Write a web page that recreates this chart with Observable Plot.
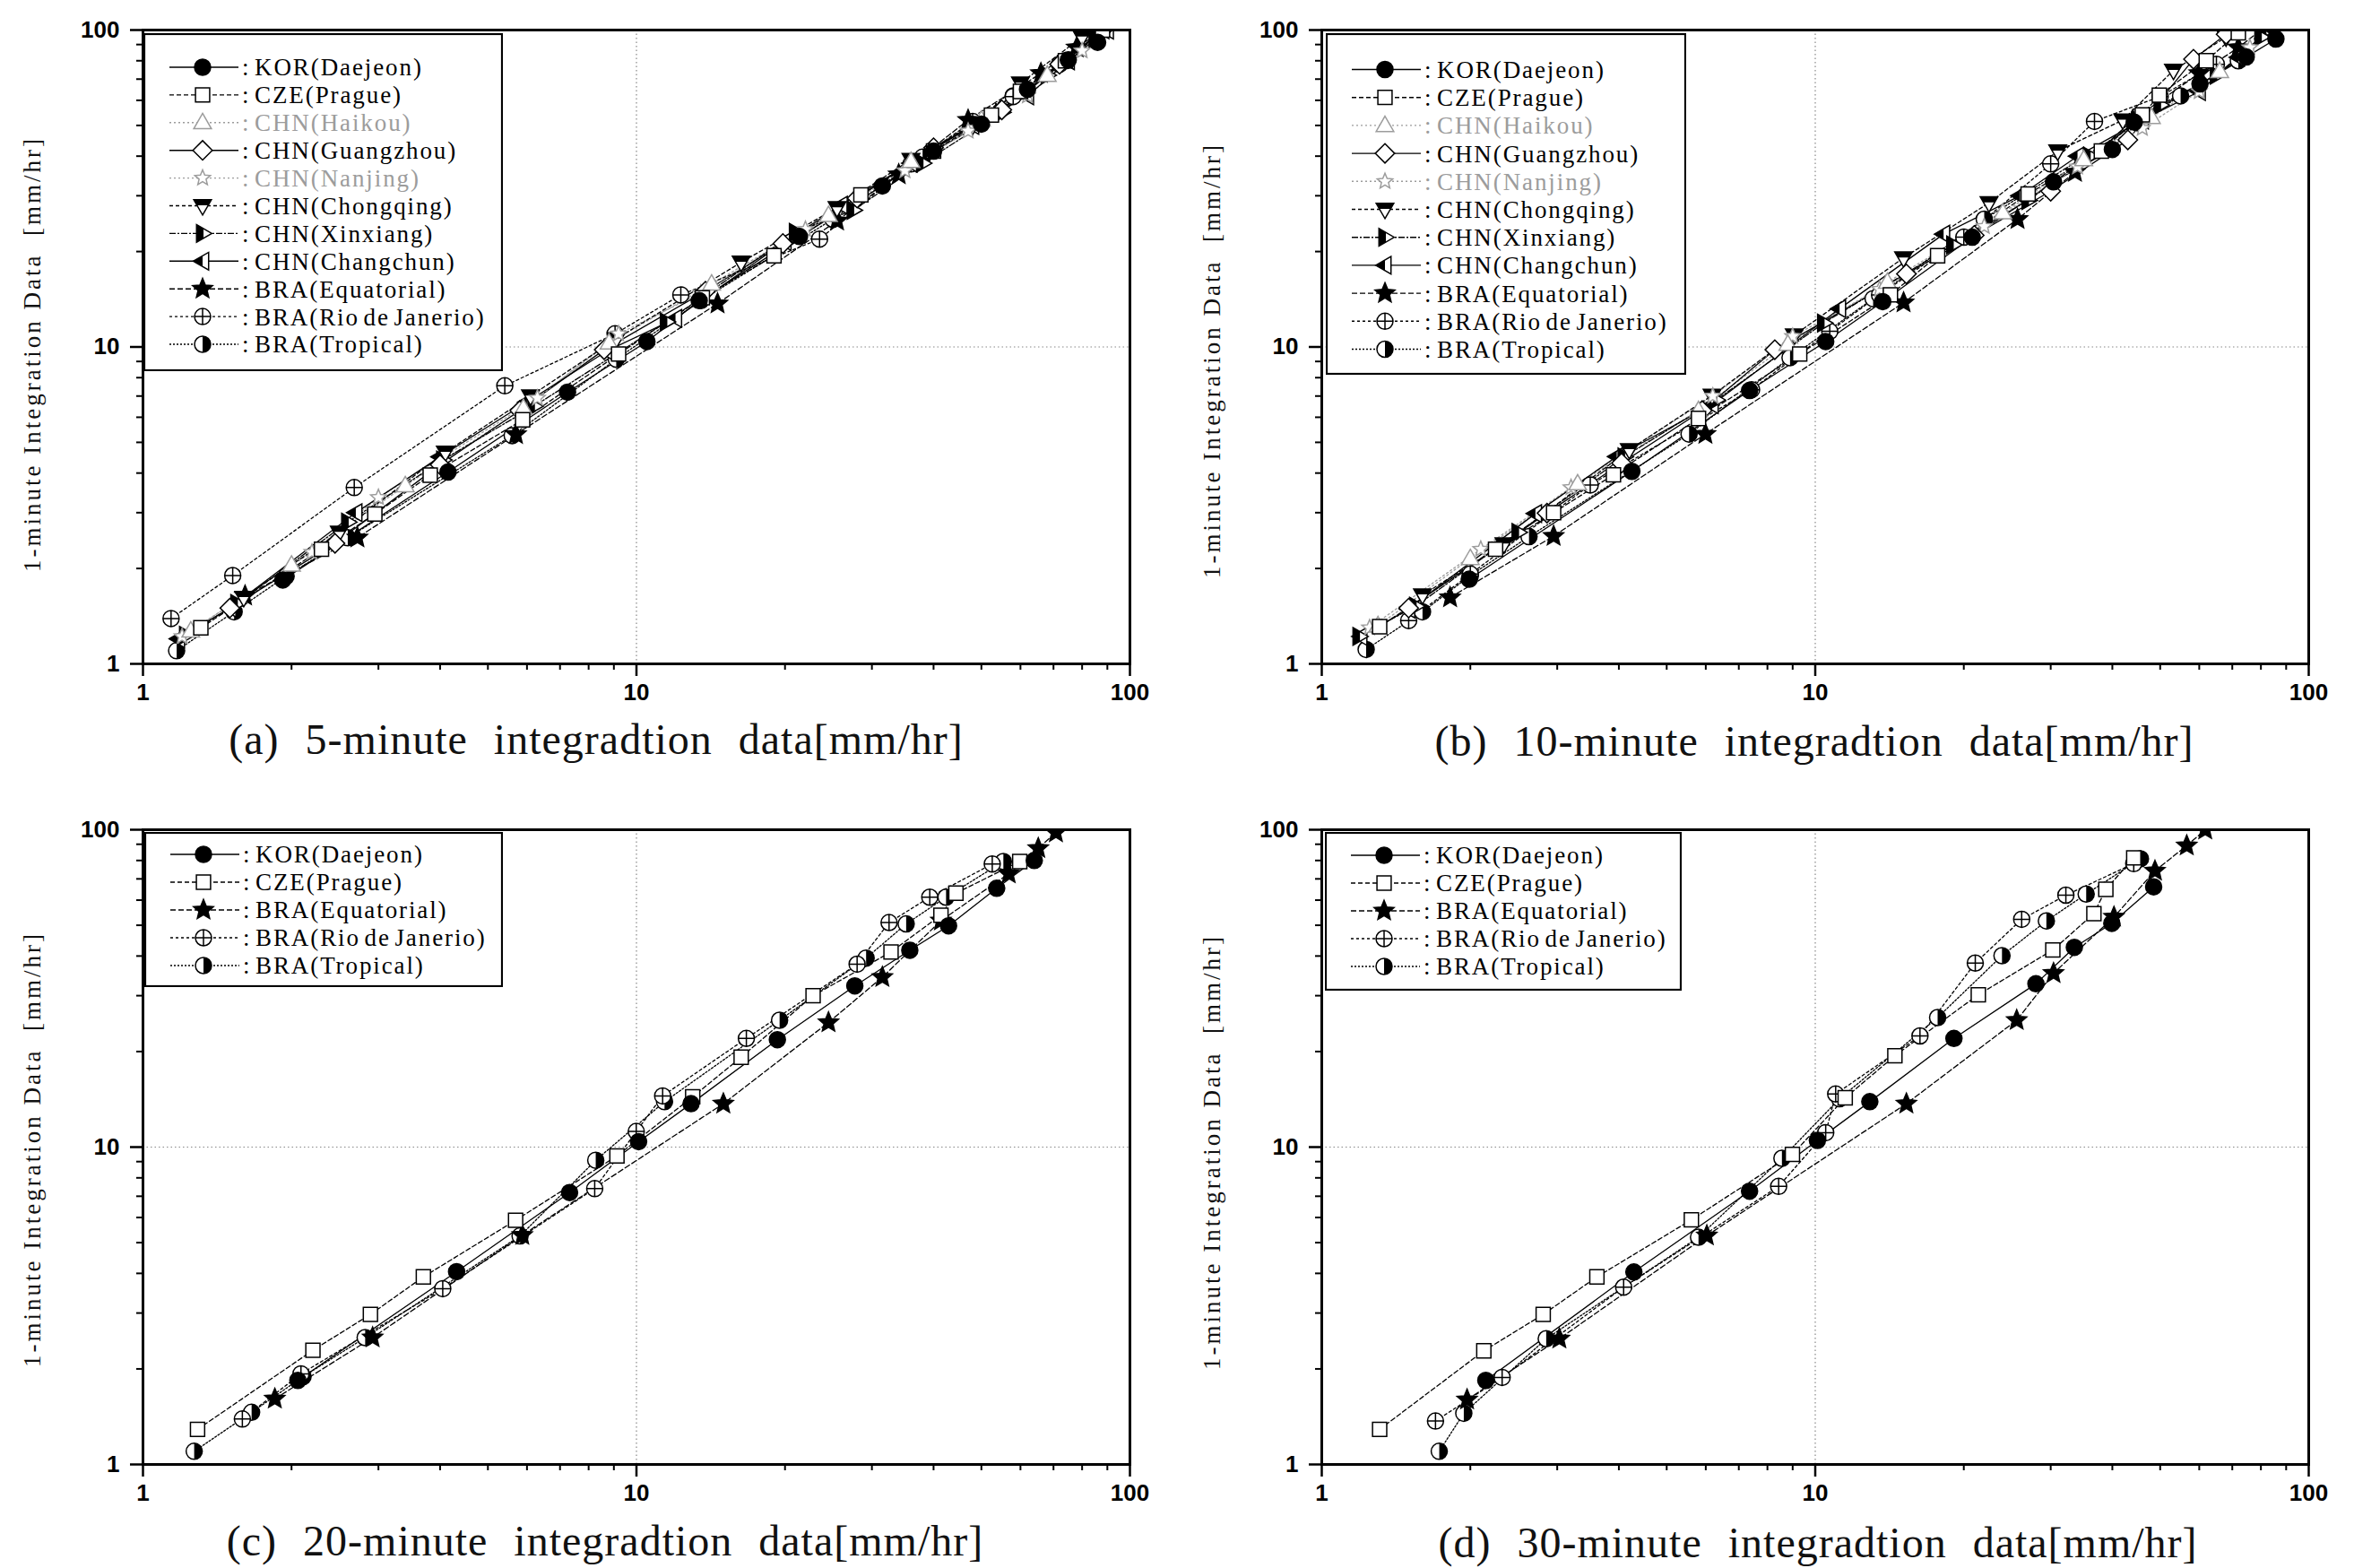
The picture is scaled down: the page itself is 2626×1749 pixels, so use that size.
<!DOCTYPE html>
<html><head><meta charset="utf-8">
<script src="https://cdn.jsdelivr.net/npm/d3@7"></script>
<script src="https://cdn.jsdelivr.net/npm/@observablehq/plot@0.6"></script>
<style>
html,body{margin:0;padding:0;background:#fff;}
#page{position:relative;width:2626px;height:1749px;overflow:hidden;background:#fff;}
.panel{position:absolute;}
.cap{position:absolute;font-family:"Liberation Serif","Times New Roman",serif;font-size:48px;white-space:nowrap;transform:translate(-50%,-50%);color:#111;word-spacing:16px;letter-spacing:1px;}
.ylab{position:absolute;font-family:"Liberation Serif","Times New Roman",serif;font-size:27px;white-space:pre;color:#111;letter-spacing:3px;transform:translate(-50%,-50%) rotate(-90deg);}
</style></head><body><div id="page"></div>
<script>
// ---------- data (x = n-minute integration rate, y = 1-minute rate) ----------
const a_KOR = [[1.92,1.84],[4.15,4.03],[7.25,7.2],[10.5,10.4],[13.4,14.0],[21.4,22.3],[31.5,32.2],[40,41.5],[50,50.5],[62,65],[75,80.5],[86,91.5]];
const a_CZE = [[1.31,1.30],[2.3,2.3],[2.95,2.97],[3.82,3.94],[5.88,5.89],[9.2,9.5],[13.6,14.3],[19.0,19.4],[28.5,30.2],[40,41.5],[52.4,53.9],[60,64],[74,80],[88,100]];
const a_HAI = [[1.25,1.27],[2.0,2.05],[3.4,3.65],[5.9,6.4],[8.8,10.3],[14.2,15.8],[24.5,26],[36,38.5],[50,52],[68,72]];
const a_GUA = [[1.5,1.5],[2.45,2.4],[4.0,4.25],[5.8,6.3],[8.6,9.8],[13.8,15.0],[19.8,21.2],[28,29.5],[40,42.5],[55,56],[72,78],[88,100]];
const a_NAN = [[1.2,1.22],[2.2,2.25],[3.0,3.35],[6.3,6.9],[9.2,11.0],[13.5,14.8],[22,23.5],[35,36],[47,48],[62,62],[80,86]];
const a_CHO = [[1.6,1.62],[2.5,2.6],[4.1,4.65],[6.1,7.0],[9.1,10.6],[16.3,18.5],[25.5,27.5],[36,39],[48,50],[60,68],[80,95]];
const a_XIN = [[1.22,1.23],[1.55,1.55],[2.6,2.8],[4.05,4.4],[6.2,6.5],[11.5,12.0],[21,23],[27.5,27],[38,38],[55,55],[68,72],[85,95]];
const a_CHA = [[1.18,1.2],[1.5,1.5],[2.7,3.0],[4.0,4.5],[6.0,6.7],[8.7,9.7],[12,12.3],[20,21.5],[26,28],[36,38],[48,50],[62,62],[75,80],[90,100]];
const a_EQU = [[1.61,1.64],[2.72,2.5],[5.7,5.3],[14.6,13.7],[25.5,25],[34,35],[47,52],[66,73],[78,88],[88,100]];
const a_RIO = [[1.14,1.39],[1.52,1.9],[2.68,3.6],[5.41,7.54],[9.05,11.0],[12.3,14.6],[23.5,21.9],[36,37.8],[48,51.5],[58,61.7],[72,78]];
const a_TRO = [[1.17,1.1],[1.53,1.46],[1.95,1.89],[2.6,2.5],[5.6,5.25],[9.1,9.15],[13.5,14.0],[25,25.3],[38,39.7],[48,51],[58,62],[74,80]];

const b_KOR = [[1.99,1.85],[4.25,4.05],[7.36,7.29],[10.5,10.4],[13.7,13.9],[20.8,22.2],[30.4,33.2],[40,42],[44.3,51.2],[60.2,67.6],[74.7,82.2],[85.8,93.7]];
const b_CZE = [[1.31,1.31],[2.25,2.3],[2.95,3.0],[3.9,3.95],[5.8,5.95],[9.3,9.5],[14.2,14.6],[17.7,19.4],[27.0,30.4],[38,41.5],[46,54],[49.8,62.3],[62,80],[72,98]];
const b_HAI = [[1.3,1.32],[2.0,2.15],[3.3,3.7],[5.8,6.3],[8.8,10.2],[14.0,16.0],[24,26.5],[35,39],[48,53],[66,74]];
const b_GUA = [[1.5,1.5],[2.86,2.99],[4.05,4.3],[5.9,6.3],[8.28,9.8],[15.3,17.0],[21,22.5],[30,31],[43,45],[58.4,80.9],[68,97]];
const b_NAN = [[1.25,1.3],[2.1,2.3],[3.2,3.6],[6.2,7.0],[9.0,10.8],[13.5,15.2],[22,24],[34,37],[46,49],[60,64],[76,88]];
const b_CHO = [[1.6,1.65],[2.34,2.39],[4.2,4.74],[6.18,7.03],[9.07,10.9],[15.1,19.1],[22.5,28.5],[31,41.5],[42,52],[53.2,74.6],[68,95]];
const b_XIN = [[1.19,1.22],[1.55,1.52],[2.5,2.6],[4.1,4.5],[6.3,6.8],[10.4,11.9],[19,21],[27,29],[36,40],[50,58],[65,72],[80,95]];
const b_CHA = [[1.2,1.22],[1.5,1.49],[2.71,2.98],[3.96,4.51],[6.18,6.57],[11.2,13.2],[18.2,22.7],[26,30],[34,40],[46,52],[60,64],[72,82],[85,100]];
const b_EQU = [[1.82,1.62],[2.95,2.53],[5.99,5.31],[15.1,13.8],[25.7,25.3],[33.6,35.6],[44,52],[60,73],[72,88],[80,100]];
const b_RIO = [[1.5,1.37],[2.0,1.92],[3.5,3.67],[7.43,7.33],[10.7,11.2],[13.5,14.6],[20,22.2],[30,37.8],[36.8,51.5],[50,61.7],[65,78]];
const b_TRO = [[1.23,1.11],[1.6,1.46],[2.0,1.9],[2.63,2.52],[5.55,5.31],[8.89,9.25],[13.1,14.2],[22,25.3],[35,39.7],[45,51],[55,62],[72,80]];

const c_KOR = [[2.06,1.84],[4.32,4.05],[7.32,7.19],[10.1,10.4],[12.9,13.7],[19.3,21.8],[27.7,32.2],[35.8,41.7],[42.9,49.8],[53.7,65.4],[64,80]];
const c_CZE = [[1.29,1.29],[2.21,2.29],[2.89,2.97],[3.7,3.9],[5.69,5.88],[9.13,9.38],[13.0,14.4],[16.3,19.2],[22.8,30.0],[32.8,41.2],[41.4,53.8],[44.4,63.1],[59.8,79.4]];
const c_EQU = [[1.85,1.61],[2.92,2.51],[5.87,5.28],[15.0,13.7],[24.5,24.7],[31.5,34.3],[41.4,51.7],[56.8,72.7],[65.2,87.4],[70.8,98]];
const c_RIO = [[1.59,1.39],[2.09,1.93],[4.05,3.58],[8.23,7.4],[9.99,11.2],[11.3,14.5],[16.7,22.0],[28.0,37.7],[32.5,51.0],[39.3,61.3],[52.6,78]];
const c_TRO = [[1.27,1.1],[1.66,1.46],[2.11,1.89],[2.82,2.51],[5.81,5.25],[8.27,9.09],[11.4,13.9],[19.5,25.1],[29.2,39.4],[35.2,50.5],[42.4,61.3],[55.4,79.4]];

const d_KOR = [[2.15,1.84],[4.29,4.04],[7.36,7.26],[10.1,10.5],[12.9,13.9],[19.1,22.0],[28.0,32.7],[33.5,42.6],[39.9,50.7],[48.5,66.1]];
const d_CZE = [[1.31,1.29],[2.13,2.28],[2.81,2.97],[3.61,3.9],[5.61,5.9],[8.99,9.49],[11.5,14.3],[14.5,19.4],[21.4,30.2],[30.3,41.8],[36.7,54.4],[38.8,64.9],[44.2,81.5]];
const d_EQU = [[1.97,1.6],[3.03,2.49],[6.03,5.26],[15.3,13.7],[25.6,25.1],[30.4,35.3],[40.3,53.1],[48.8,74.2],[56.6,89.1],[61.7,100]];
const d_RIO = [[1.7,1.37],[2.32,1.88],[4.09,3.62],[8.43,7.52],[10.5,11.1],[11.0,14.7],[16.3,22.4],[21.1,38.0],[26.2,52.2],[32.2,62.2],[44.2,78.2]];
const d_TRO = [[1.73,1.1],[1.94,1.45],[2.85,2.49],[5.8,5.2],[8.56,9.22],[11.2,14.2],[17.7,25.6],[23.9,40.1],[29.4,51.6],[35.4,62.7],[45.6,81.0]];

const seriesLabels = {KOR:"KOR(Daejeon)", CZE:"CZE(Prague)", HAI:"CHN(Haikou)", GUA:"CHN(Guangzhou)", NAN:"CHN(Nanjing)", CHO:"CHN(Chongqing)", XIN:"CHN(Xinxiang)", CHA:"CHN(Changchun)", EQU:"BRA(Equatorial)", RIO:"BRA(Rio de Janerio)", TRO:"BRA(Tropical)"};
const xTicks = [1, 10, 100];
const yTicks = [1, 10, 100];
const minorTicks = [2,3,4,5,6,7,8,9,20,30,40,50,60,70,80,90];
const yLabel = "1-minute Integration Data  [mm/hr]";
const captions = ["(a) 5-minute integradtion data[mm/hr]", "(b) 10-minute integradtion data[mm/hr]", "(c) 20-minute integradtion data[mm/hr]", "(d) 30-minute integradtion data[mm/hr]"];

// ---------- marker shapes ----------
const rad = s => Math.sqrt(s / Math.PI);
const SYM = {
  circle: {draw(c,s){const r=rad(s); c.moveTo(r,0); c.arc(0,0,r,0,2*Math.PI); c.closePath();}},
  square: {draw(c,s){const r=rad(s)*0.88; c.moveTo(-r,-r); c.lineTo(r,-r); c.lineTo(r,r); c.lineTo(-r,r); c.closePath();}},
  triUp: {draw(c,s){const r=rad(s)*1.15; c.moveTo(0,-r); c.lineTo(r*0.95,r*0.65); c.lineTo(-r*0.95,r*0.65); c.closePath();}},
  triDown: {draw(c,s){const r=rad(s)*1.15; c.moveTo(0,r); c.lineTo(r*0.95,-r*0.65); c.lineTo(-r*0.95,-r*0.65); c.closePath();}},
  triDownTop: {draw(c,s){const r=rad(s)*1.15, y0=-r*0.65, y1=-r*0.05, w0=r*0.95, w1=w0*(r-y1)/(r-y0); c.moveTo(-w0,y0); c.lineTo(w0,y0); c.lineTo(w1,y1); c.lineTo(-w1,y1); c.closePath();}},
  triRight: {draw(c,s){const r=rad(s)*1.15; c.moveTo(r,0); c.lineTo(-r*0.65,r*0.95); c.lineTo(-r*0.65,-r*0.95); c.closePath();}},
  triRightHalf: {draw(c,s){const r=rad(s)*1.15, x0=-r*0.65, x1=r*0.1, h0=r*0.95, h1=h0*(r-x1)/(r-x0); c.moveTo(x0,-h0); c.lineTo(x1,-h1); c.lineTo(x1,h1); c.lineTo(x0,h0); c.closePath();}},
  triLeft: {draw(c,s){const r=rad(s)*1.15; c.moveTo(-r,0); c.lineTo(r*0.65,r*0.95); c.lineTo(r*0.65,-r*0.95); c.closePath();}},
  triLeftHalf: {draw(c,s){const r=rad(s)*1.15, h=r*0.95/1.65; c.moveTo(-r,0); c.lineTo(0,h); c.lineTo(0,-h); c.closePath();}},
  diamond: {draw(c,s){const r=rad(s)*1.2; c.moveTo(0,-r); c.lineTo(r,0); c.lineTo(0,r); c.lineTo(-r,0); c.closePath();}},
  star: {draw(c,s){const R=rad(s)*1.3, q=R*0.45; for(let i=0;i<10;i++){const a=-Math.PI/2+i*Math.PI/5, rr=i%2?q:R; const x=rr*Math.cos(a), y=rr*Math.sin(a); if(i) c.lineTo(x,y); else c.moveTo(x,y);} c.closePath();}},
  circlePlus: {draw(c,s){const r=rad(s); c.moveTo(r,0); c.arc(0,0,r,0,2*Math.PI); c.closePath(); c.moveTo(-r,0); c.lineTo(r,0); c.moveTo(0,-r); c.lineTo(0,r);}},
  halfRight: {draw(c,s){const r=rad(s); c.moveTo(0,-r); c.arc(0,0,r,-Math.PI/2,Math.PI/2); c.closePath();}}
};

const GRAY = "#9c9c9c";
const STY = {
  KOR: {sym:"circle", fill:"#000", stroke:"#000", dash:null},
  CZE: {sym:"square", fill:"#fff", stroke:"#000", dash:"5,3"},
  HAI: {sym:"triUp", fill:"#fff", stroke:GRAY, dash:"2,3", text:GRAY},
  GUA: {sym:"diamond", fill:"#fff", stroke:"#000", dash:null},
  NAN: {sym:"star", fill:"#fff", stroke:GRAY, dash:"2,3", text:GRAY, r:7},
  CHO: {sym:"triDown", over:"triDownTop", fill:"#fff", stroke:"#000", dash:"4,3"},
  XIN: {sym:"triRight", over:"triRightHalf", fill:"#fff", stroke:"#000", dash:"7,2,2,2"},
  CHA: {sym:"triLeft", over:"triLeftHalf", fill:"#fff", stroke:"#000", dash:null},
  EQU: {sym:"star", fill:"#000", stroke:"#000", dash:"6,3"},
  RIO: {sym:"circlePlus", fill:"#fff", stroke:"#000", dash:"3,3"},
  TRO: {sym:"circle", over:"halfRight", fill:"#fff", stroke:"#000", dash:"2,2"}
};

const fx = d => d[0], fy = d => d[1];
function lineMark(data, st){
  return Plot.line(data, {x: fx, y: fy, stroke: st.stroke, strokeWidth: 1.3, strokeDasharray: st.dash, clip: true});
}
function dotMarks(data, st){
  const r = st.r || 9;
  const m = [Plot.dot(data, {x: fx, y: fy, symbol: SYM[st.sym], r, fill: st.fill, stroke: st.stroke, strokeWidth: 1.5, clip: true})];
  if (st.over) m.push(Plot.dot(data, {x: fx, y: fy, symbol: SYM[st.over], r, fill: st.stroke, stroke: "none", clip: true}));
  return m;
}

const page = document.getElementById("page");

function panel(series, pos){
  const ML = 159, MT = 33, W = 1101, H = pos.h;
  const keys = Object.keys(series);
  const marks = [
    Plot.ruleX([10], {stroke:"#888", strokeDasharray:"1.5,3", strokeWidth:1.2}),
    Plot.ruleY([10], {stroke:"#888", strokeDasharray:"1.5,3", strokeWidth:1.2}),
    ...keys.map(k => lineMark(series[k], STY[k])),
    ...keys.slice().reverse().flatMap(k => dotMarks(series[k], STY[k])),
    Plot.axisX(minorTicks, {tickSize: 7, tickFormat: () => "", label: null, strokeWidth: 2}),
    Plot.axisY(minorTicks, {tickSize: 7, tickFormat: () => "", label: null, strokeWidth: 2}),
    Plot.axisX(xTicks, {tickSize: 14, tickPadding: 8, tickFormat: d => String(d), label: null, fontSize: 26, fontWeight: "bold", strokeWidth: 2.5}),
    Plot.axisY(yTicks, {tickSize: 14, tickPadding: 12, tickFormat: d => String(d), label: null, fontSize: 26, fontWeight: "bold", strokeWidth: 2.5}),
    Plot.frame({stroke: "#000", strokeWidth: 3})
  ];
  const svg = Plot.plot({
    width: ML + W + 30, height: MT + H + 62,
    marginLeft: ML, marginRight: 30, marginTop: MT, marginBottom: 62,
    x: {type: "log", domain: [1, 100], axis: null},
    y: {type: "log", domain: [1, 100], axis: null},
    style: {background: "transparent", fontFamily: "Liberation Sans, Arial, sans-serif", color: "#000"},
    marks
  });
  const div = document.createElement("div");
  div.className = "panel";
  div.style.left = (pos.x - ML) + "px";
  div.style.top = (pos.y - MT) + "px";
  div.appendChild(svg);
  page.appendChild(div);
  const yl = document.createElement("div");
  yl.className = "ylab"; yl.textContent = yLabel;
  yl.style.left = pos.lx + "px"; yl.style.top = pos.ly + "px";
  page.appendChild(yl);
}

function legend(keys, box){
  const svg = d3.create("svg").attr("width", box.w).attr("height", box.h)
    .style("position","absolute").style("left", box.x + "px").style("top", box.y + "px");
  svg.append("rect").attr("x",1).attr("y",1).attr("width",box.w-2).attr("height",box.h-2)
    .attr("fill","#fff").attr("stroke","#000").attr("stroke-width",2.2);
  keys.forEach((k,i) => {
    const st = STY[k], r = st.r || 9, size = Math.PI*r*r;
    const g = svg.append("g").attr("transform", `translate(0,${box.row0 + i*box.dy})`);
    g.append("line").attr("x1", 29).attr("x2", 106).attr("stroke", st.stroke).attr("stroke-width", 1.4)
      .attr("stroke-dasharray", st.dash);
    g.append("path").attr("transform", "translate(66,0)").attr("d", d3.symbol(SYM[st.sym], size)())
      .attr("fill", st.fill).attr("stroke", st.stroke).attr("stroke-width", 1.5);
    if (st.over) g.append("path").attr("transform", "translate(66,0)").attr("d", d3.symbol(SYM[st.over], size)()).attr("fill", st.stroke);
    g.append("text").attr("x", 110).attr("dy", "0.35em").text(": " + seriesLabels[k])
      .attr("fill", st.text || "#000").style("font-family", "Liberation Serif, Times New Roman, serif")
      .style("font-size", "27px").style("letter-spacing", "1.9px").style("word-spacing", "-4px");
  });
  page.appendChild(svg.node());
}

function caption(text, cx, cy){
  const d = document.createElement("div");
  d.className = "cap"; d.textContent = text;
  d.style.left = cx + "px"; d.style.top = cy + "px";
  page.appendChild(d);
}

panel({KOR:a_KOR, CZE:a_CZE, HAI:a_HAI, GUA:a_GUA, NAN:a_NAN, CHO:a_CHO, XIN:a_XIN, CHA:a_CHA, EQU:a_EQU, RIO:a_RIO, TRO:a_TRO}, {x:159, y:33, h:707, lx:36, ly:395});
panel({KOR:b_KOR, CZE:b_CZE, HAI:b_HAI, GUA:b_GUA, NAN:b_NAN, CHO:b_CHO, XIN:b_XIN, CHA:b_CHA, EQU:b_EQU, RIO:b_RIO, TRO:b_TRO}, {x:1474, y:33, h:707, lx:1352, ly:402});
panel({KOR:c_KOR, CZE:c_CZE, EQU:c_EQU, RIO:c_RIO, TRO:c_TRO}, {x:159, y:925, h:708, lx:36, ly:1282});
panel({KOR:d_KOR, CZE:d_CZE, EQU:d_EQU, RIO:d_RIO, TRO:d_TRO}, {x:1474, y:925, h:708, lx:1352, ly:1285});

const allKeys = ["KOR","CZE","HAI","GUA","NAN","CHO","XIN","CHA","EQU","RIO","TRO"];
const fewKeys = ["KOR","CZE","EQU","RIO","TRO"];
legend(allKeys, {x:160, y:37, w:401, h:377, row0:38, dy:30.9});
legend(allKeys, {x:1479, y:37, w:402, h:381, row0:40.5, dy:31.2});
legend(fewKeys, {x:161, y:928, w:400, h:173, row0:25, dy:31});
legend(fewKeys, {x:1478, y:928, w:398, h:177, row0:26, dy:31});

caption(captions[0], 665, 824);
caption(captions[1], 2024, 826);
caption(captions[2], 675, 1718);
caption(captions[3], 2028, 1720);
</script></body></html>
